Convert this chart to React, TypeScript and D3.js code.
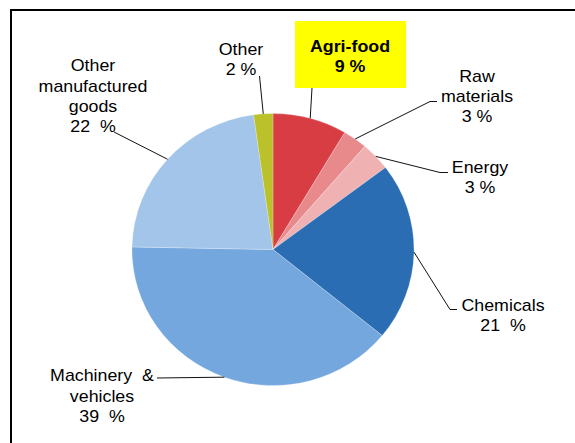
import * as d3 from 'd3'
import { useEffect, useRef } from 'react'

// slice order: clockwise from 12 o'clock
const categories = ['Agri-food', 'Raw materials', 'Energy', 'Chemicals', 'Machinery & vehicles', 'Other manufactured goods', 'Other']
const shares = [8.5, 2.8, 3.4, 21.2, 39.4, 22.5, 2.2]
const shareLabels = ['9 %', '3 %', '3 %', '21  %', '39  %', '22  %', '2 %']
const labelLines = [
  ['Agri-food'],
  ['Raw', 'materials'],
  ['Energy'],
  ['Chemicals'],
  ['Machinery  &', 'vehicles'],
  ['Other', 'manufactured', 'goods'],
  ['Other'],
]
const colors = ['#D73D43', '#E8898C', '#F0B1B3', '#2A6DB3', '#73A7DE', '#A3C5E9', '#BAC12A']

// label layout: text centre x, first baseline y, leader points (after the slice edge point)
const layout = [
  { x: 350, y: 52, pts: [[312, 88]] },
  { x: 477, y: 82, pts: [[430, 101.5], [437, 101.5]] },
  { x: 480, y: 173, pts: [[440, 172.5], [448, 172.5]] },
  { x: 503, y: 311, pts: [[450, 309.5], [457, 309.5]] },
  { x: 102, y: 381.5, pts: [[157, 378]] },
  { x: 93, y: 71.5, pts: [[114, 132]] },
  { x: 241, y: 55, pts: [[259.5, 76]] },
]

const cx = 273
const cy = 249.5
const r = 141
const sy = 136 / 141

export default function App() {
  const svgRef = useRef(null)

  useEffect(() => {
    const svg = d3.select(svgRef.current)
    svg.selectAll('*').remove()

    svg.append('rect')
      .attr('x', 11).attr('y', 10)
      .attr('width', 700).attr('height', 600)
      .attr('fill', 'none').attr('stroke', '#000').attr('stroke-width', 2)

    const pie = d3.pie<number>().sort(null).value(d => d)
    const arcs = pie(shares)
    const arc = d3.arc<d3.PieArcDatum<number>>().innerRadius(0).outerRadius(r)
    const edge = d3.arc<d3.PieArcDatum<number>>().innerRadius(r).outerRadius(r)

    const g = svg.append('g').attr('transform', `translate(${cx},${cy}) scale(1,${sy})`)
    g.selectAll('path')
      .data(arcs)
      .enter()
      .append('path')
      .attr('d', arc)
      .attr('fill', (d, i) => colors[i])
      .attr('stroke', '#fff')
      .attr('stroke-width', 0.4)
      .attr('stroke-opacity', 0.6)

    // Agri-food highlight box
    svg.append('rect')
      .attr('x', 295).attr('y', 21)
      .attr('width', 111).attr('height', 67)
      .attr('fill', '#FFFF00')

    arcs.forEach((a, i) => {
      const [ex, ey] = edge.centroid(a)
      const start: [number, number] = [cx + ex, cy + ey * sy]
      const pts = [start, ...layout[i].pts] as [number, number][]
      svg.append('path')
        .attr('d', d3.line()(pts))
        .attr('fill', 'none')
        .attr('stroke', '#111')
        .attr('stroke-width', 1)

      const lines = [...labelLines[i], shareLabels[i]]
      const t = svg.append('text')
        .attr('transform', `translate(${layout[i].x},0) scale(1.06,1)`)
        .attr('text-anchor', 'middle')
        .attr('font-family', 'Liberation Sans, Arial, sans-serif')
        .attr('font-size', 16.8)
        .attr('font-weight', i === 0 ? 'bold' : 'normal')
        .attr('fill', '#000')
        .style('white-space', 'pre')
      lines.forEach((l, j) => {
        t.append('tspan')
          .attr('x', 0)
          .attr('y', layout[i].y + j * 20.2)
          .text(l)
      })
    })
  })

  return (
    <div style={{ position: 'absolute', left: 0, top: 0 }}>
      <svg ref={svgRef} width={575} height={443}></svg>
    </div>
  )
}
